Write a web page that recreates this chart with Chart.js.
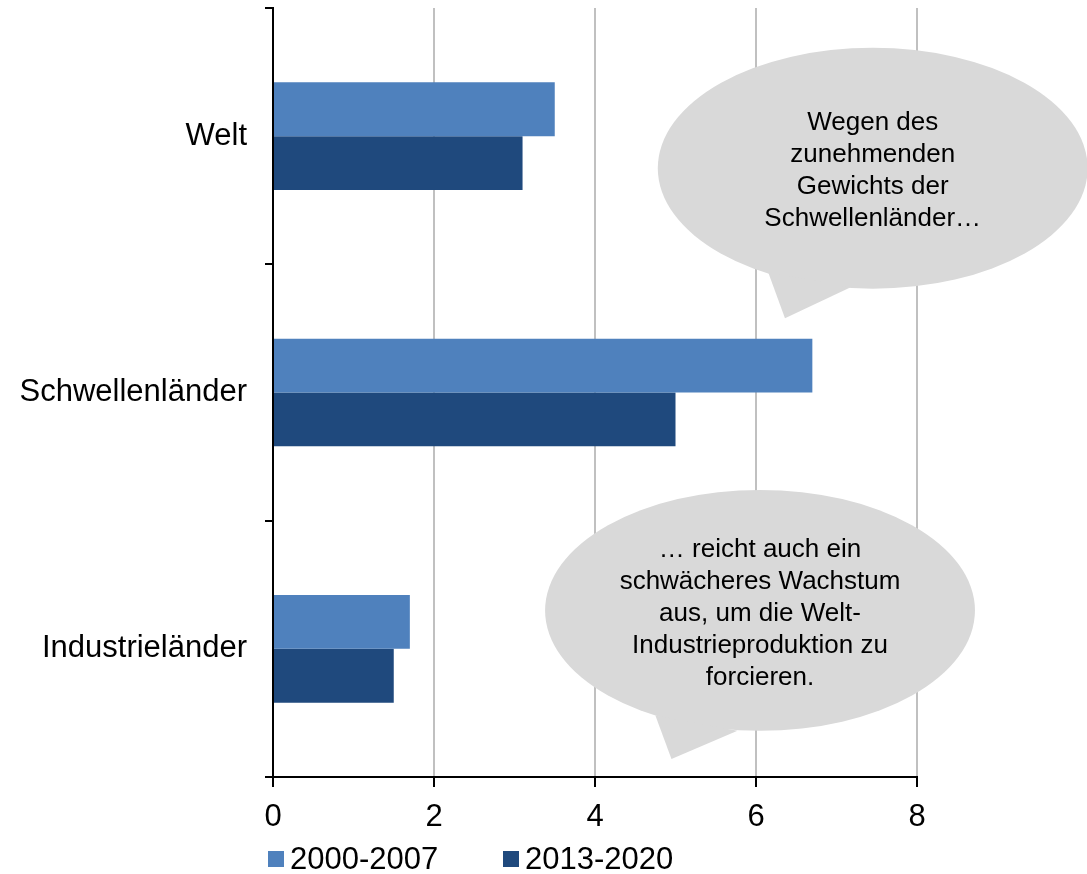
<!DOCTYPE html>
<html lang="de">
<head>
<meta charset="UTF-8">
<title>Industrieproduktion</title>
<style>
  html, body { margin: 0; padding: 0; background: #fff; }
  #wrap { width: 1087px; height: 874px; }
</style>
<script src="https://cdn.jsdelivr.net/npm/chart.js"></script>
</head>
<body>
<div id="wrap"><canvas id="chart"></canvas></div>
<script>
// data
const categories = ['Welt', 'Schwellenländer', 'Industrieländer'];
const seriesNames = ['2000-2007', '2013-2020'];
const values2000 = [3.5, 6.7, 1.7];
const values2013 = [3.1, 5.0, 1.5];
const xTicks = [0, 2, 4, 6, 8];
const colors = ['#4f81bd', '#1f497d'];

// speech bubbles (in value / category units)
const bubbles = [
  { x: 7.45, y: 0.125, rx: 2.67, ry: 0.47,
    tail: [[6.15, 0.53], [6.36, 0.71], [7.17, 0.59]],
    lines: ['Wegen des', 'zunehmenden', 'Gewichts der', 'Schwellenländer…'] },
  { x: 6.05, y: 1.85, rx: 2.67, ry: 0.47,
    tail: [[4.75, 2.26], [4.95, 2.43], [5.77, 2.32]],
    lines: ['… reicht auch ein', 'schwächeres Wachstum', 'aus, um die Welt-', 'Industrieproduktion zu', 'forcieren.'] }
];

const FONT = 'Arial, "Liberation Sans", sans-serif';

// draws the bubbles on top of the chart
const bubblePlugin = {
  id: 'bubbles',
  afterDraw(chart) {
    const ctx = chart.ctx;
    const xs = chart.scales.x, ys = chart.scales.y;
    const px = v => xs.getPixelForValue(v);
    const py = v => ys.getPixelForValue(v);
    const unitX = px(1) - px(0);
    const unitY = py(1) - py(0);
    ctx.save();
    bubbles.forEach(b => {
      ctx.fillStyle = '#d9d9d9';
      ctx.beginPath();
      ctx.ellipse(px(b.x), py(b.y), b.rx * unitX, b.ry * unitY, 0, 0, Math.PI * 2);
      ctx.fill();
      ctx.beginPath();
      ctx.moveTo(px(b.tail[0][0]), py(b.tail[0][1]));
      ctx.lineTo(px(b.tail[1][0]), py(b.tail[1][1]));
      ctx.lineTo(px(b.tail[2][0]), py(b.tail[2][1]));
      ctx.closePath();
      ctx.fill();
      ctx.fillStyle = '#000';
      ctx.font = '26px ' + FONT;
      ctx.textAlign = 'center';
      ctx.textBaseline = 'middle';
      const lh = 32;
      const top = py(b.y) - (b.lines.length - 1) * lh / 2 + 3;
      b.lines.forEach((t, i) => ctx.fillText(t, px(b.x), top + i * lh));
    });
    ctx.restore();
  }
};

// legend under the axis, starting at the y axis
const legendPlugin = {
  id: 'myLegend',
  afterDraw(chart) {
    const ctx = chart.ctx;
    const left = chart.chartArea.left - 5;
    const yMid = 859;
    const offsets = [0, 235];
    ctx.save();
    ctx.font = '31px ' + FONT;
    ctx.textBaseline = 'middle';
    ctx.textAlign = 'left';
    chart.data.datasets.forEach((ds, i) => {
      const x = left + offsets[i];
      ctx.fillStyle = ds.backgroundColor;
      ctx.fillRect(x, yMid - 8, 16, 16);
      ctx.fillStyle = '#000';
      ctx.fillText(ds.label, x + 22, yMid + 1);
    });
    ctx.restore();
  }
};

new Chart(document.getElementById('chart'), {
  type: 'bar',
  data: {
    labels: categories,
    datasets: [
      { label: seriesNames[0], data: values2000, backgroundColor: colors[0] },
      { label: seriesNames[1], data: values2013, backgroundColor: colors[1] }
    ]
  },
  options: {
    indexAxis: 'y',
    responsive: true,
    maintainAspectRatio: false,
    animation: false,
    layout: { padding: { top: 8, right: 170, bottom: 40, left: 0 } },
    datasets: { bar: { barPercentage: 1, categoryPercentage: 0.42 } },
    plugins: { legend: { display: false }, tooltip: { enabled: false } },
    scales: {
      x: {
        min: 0, max: 8,
        afterBuildTicks: s => { s.ticks = xTicks.map(v => ({ value: v })); },
        afterFit: s => { s.height = 57; s.paddingLeft = 0; s.paddingRight = 0; },
        border: { color: '#000', width: 2 },
        grid: { color: '#c0c0c0', lineWidth: 2, tickColor: '#000', tickLength: 10 },
        ticks: { color: '#000', font: { size: 31, family: FONT }, padding: 12 }
      },
      y: {
        afterFit: s => { s.width = 273; s.paddingTop = 0; s.paddingBottom = 0; },
        border: { color: '#000', width: 2 },
        grid: { drawOnChartArea: false, offset: true, color: '#000', lineWidth: 2, tickLength: 8 },
        ticks: { color: '#000', font: { size: 31, family: FONT }, padding: 18 }
      }
    }
  },
  plugins: [bubblePlugin, legendPlugin]
});
</script>
</body>
</html>
